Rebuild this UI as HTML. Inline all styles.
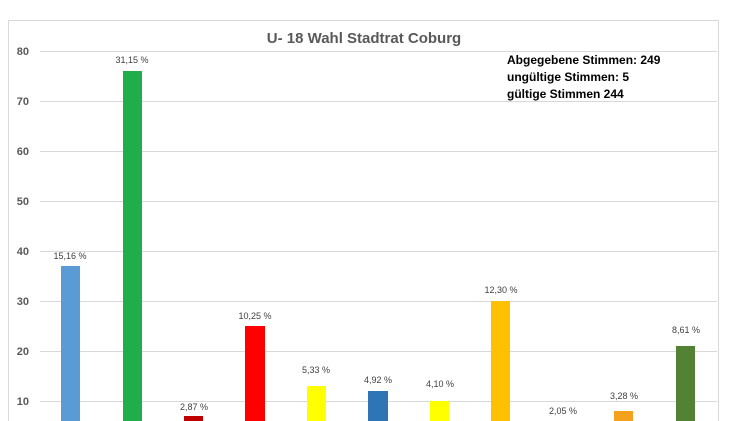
<!DOCTYPE html>
<html><head><meta charset="utf-8"><style>
body{margin:0;background:#fff;}
svg{display:block;font-family:"Liberation Sans",sans-serif;}
</style></head><body>
<svg width="748" height="421" viewBox="0 0 748 421">
<rect x="8.5" y="20.5" width="710" height="420" fill="#fff" stroke="#d9d9d9"/>
<g stroke="#d9d9d9" stroke-width="1">
<line x1="40" x2="717" y1="51.5" y2="51.5"/><line x1="40" x2="717" y1="101.5" y2="101.5"/>
<line x1="40" x2="717" y1="151.5" y2="151.5"/><line x1="40" x2="717" y1="201.5" y2="201.5"/>
<line x1="40" x2="717" y1="251.5" y2="251.5"/><line x1="40" x2="717" y1="301.5" y2="301.5"/>
<line x1="40" x2="717" y1="351.5" y2="351.5"/><line x1="40" x2="717" y1="401.5" y2="401.5"/>
</g>
<g font-size="11" fill="#595959" font-weight="bold" text-anchor="end">
<text x="29" y="55">80</text><text x="29" y="105">70</text><text x="29" y="155">60</text>
<text x="29" y="205">50</text><text x="29" y="255">40</text><text x="29" y="305">30</text>
<text x="29" y="355">20</text><text x="29" y="405">10</text>
</g>
<text x="364" y="43" font-size="15" font-weight="bold" fill="#595959" text-anchor="middle">U- 18 Wahl Stadtrat Coburg</text>
<g font-size="12" font-weight="bold" fill="#000">
<text x="507" y="64">Abgegebene Stimmen: 249</text>
<text x="507" y="81">ungültige Stimmen: 5</text>
<text x="507" y="98">gültige Stimmen 244</text>
</g>
<g>
<rect x="61" y="266" width="19" height="160" fill="#5b9bd5"/>
<rect x="123" y="71" width="19" height="360" fill="#1fae4b"/>
<rect x="184" y="416" width="19" height="20" fill="#c00000"/>
<rect x="245" y="326" width="20" height="100" fill="#ff0000"/>
<rect x="307" y="386" width="19" height="40" fill="#ffff00"/>
<rect x="368" y="391" width="20" height="40" fill="#2e75b6"/>
<rect x="430" y="401" width="19" height="30" fill="#ffff00"/>
<rect x="491" y="301" width="19" height="130" fill="#ffc000"/>
<rect x="614" y="411" width="19" height="20" fill="#f4a21d"/>
<rect x="676" y="346" width="19" height="80" fill="#548235"/>
</g>
<g font-size="9" fill="#404040" text-anchor="middle">
<text x="70" y="259">15,16 %</text>
<text x="132" y="63">31,15 %</text>
<text x="194" y="410">2,87 %</text>
<text x="255" y="319">10,25 %</text>
<text x="316" y="373">5,33 %</text>
<text x="378" y="383">4,92 %</text>
<text x="440" y="387">4,10 %</text>
<text x="501" y="293">12,30 %</text>
<text x="563" y="414">2,05 %</text>
<text x="624" y="399">3,28 %</text>
<text x="686" y="333">8,61 %</text>
</g>
</svg>
</body></html>
